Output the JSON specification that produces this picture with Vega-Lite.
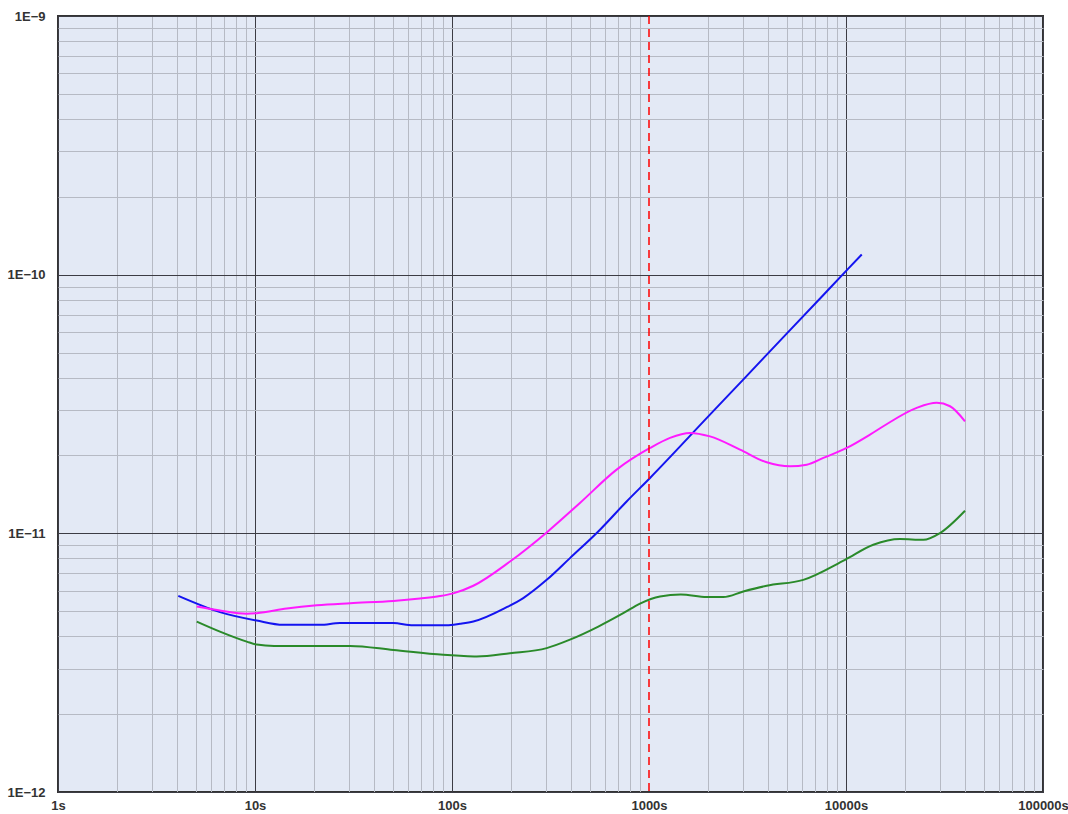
{
  "$schema": "https://vega.github.io/schema/vega-lite/v6.json",
  "autosize": {"type": "none"},
  "padding": {"left": 58, "top": 16, "right": 25, "bottom": 22},
  "width": 985,
  "height": 776,
  "background": "white",
  "config": {
    "view": {"fill": "#e3e9f5", "stroke": "#333333", "strokeWidth": 2},
    "axis": {"labelFont": "Liberation Sans", "labelFontWeight": "bold", "labelFontSize": 13, "labelColor": "#333333", "domain": false, "ticks": false}
  },
  "datasets": {
    "curves": [
      {"series": "blue", "tau": 4.08, "adev": 5.73e-12},
      {"series": "blue", "tau": 6.64, "adev": 4.96e-12},
      {"series": "blue", "tau": 10.2, "adev": 4.60e-12},
      {"series": "blue", "tau": 13.9, "adev": 4.43e-12},
      {"series": "blue", "tau": 21.4, "adev": 4.43e-12},
      {"series": "blue", "tau": 27.0, "adev": 4.50e-12},
      {"series": "blue", "tau": 50.4, "adev": 4.50e-12},
      {"series": "blue", "tau": 63.4, "adev": 4.41e-12},
      {"series": "blue", "tau": 94.0, "adev": 4.41e-12},
      {"series": "blue", "tau": 109.8, "adev": 4.47e-12},
      {"series": "blue", "tau": 128.3, "adev": 4.56e-12},
      {"series": "blue", "tau": 189.5, "adev": 5.18e-12},
      {"series": "blue", "tau": 230, "adev": 5.62e-12},
      {"series": "blue", "tau": 302.5, "adev": 6.61e-12},
      {"series": "blue", "tau": 397, "adev": 8.02e-12},
      {"series": "blue", "tau": 564, "adev": 1.033e-11},
      {"series": "blue", "tau": 770, "adev": 1.328e-11},
      {"series": "blue", "tau": 1012, "adev": 1.637e-11},
      {"series": "blue", "tau": 2000, "adev": 2.831e-11},
      {"series": "blue", "tau": 3000, "adev": 3.922e-11},
      {"series": "blue", "tau": 5000, "adev": 5.915e-11},
      {"series": "blue", "tau": 8000, "adev": 8.63e-11},
      {"series": "blue", "tau": 12020, "adev": 1.197e-10},
      {"series": "magenta", "tau": 5.06, "adev": 5.21e-12},
      {"series": "magenta", "tau": 6.64, "adev": 5.03e-12},
      {"series": "magenta", "tau": 9.08, "adev": 4.89e-12},
      {"series": "magenta", "tau": 10.2, "adev": 4.91e-12},
      {"series": "magenta", "tau": 14.5, "adev": 5.12e-12},
      {"series": "magenta", "tau": 20.6, "adev": 5.27e-12},
      {"series": "magenta", "tau": 30.4, "adev": 5.37e-12},
      {"series": "magenta", "tau": 50.4, "adev": 5.48e-12},
      {"series": "magenta", "tau": 68.8, "adev": 5.60e-12},
      {"series": "magenta", "tau": 86.9, "adev": 5.72e-12},
      {"series": "magenta", "tau": 101.5, "adev": 5.86e-12},
      {"series": "magenta", "tau": 128.3, "adev": 6.27e-12},
      {"series": "magenta", "tau": 197, "adev": 7.78e-12},
      {"series": "magenta", "tau": 302.5, "adev": 1.008e-11},
      {"series": "magenta", "tau": 446, "adev": 1.31e-11},
      {"series": "magenta", "tau": 685, "adev": 1.763e-11},
      {"series": "magenta", "tau": 1012, "adev": 2.138e-11},
      {"series": "magenta", "tau": 1278, "adev": 2.34e-11},
      {"series": "magenta", "tau": 1615, "adev": 2.445e-11},
      {"series": "magenta", "tau": 2040, "adev": 2.37e-11},
      {"series": "magenta", "tau": 2897, "adev": 2.107e-11},
      {"series": "magenta", "tau": 3958, "adev": 1.882e-11},
      {"series": "magenta", "tau": 5197, "adev": 1.816e-11},
      {"series": "magenta", "tau": 6318, "adev": 1.843e-11},
      {"series": "magenta", "tau": 7671, "adev": 1.957e-11},
      {"series": "magenta", "tau": 10080, "adev": 2.138e-11},
      {"series": "magenta", "tau": 13240, "adev": 2.408e-11},
      {"series": "magenta", "tau": 15470, "adev": 2.594e-11},
      {"series": "magenta", "tau": 22850, "adev": 3.055e-11},
      {"series": "magenta", "tau": 28870, "adev": 3.195e-11},
      {"series": "magenta", "tau": 33730, "adev": 3.10e-11},
      {"series": "magenta", "tau": 40180, "adev": 2.71e-11},
      {"series": "green", "tau": 5.06, "adev": 4.56e-12},
      {"series": "green", "tau": 6.64, "adev": 4.17e-12},
      {"series": "green", "tau": 9.08, "adev": 3.815e-12},
      {"series": "green", "tau": 10.2, "adev": 3.715e-12},
      {"series": "green", "tau": 12.5, "adev": 3.672e-12},
      {"series": "green", "tau": 30.4, "adev": 3.672e-12},
      {"series": "green", "tau": 50.4, "adev": 3.54e-12},
      {"series": "green", "tau": 90.3, "adev": 3.39e-12},
      {"series": "green", "tau": 109.8, "adev": 3.36e-12},
      {"series": "green", "tau": 133.5, "adev": 3.34e-12},
      {"series": "green", "tau": 197, "adev": 3.44e-12},
      {"series": "green", "tau": 302.5, "adev": 3.60e-12},
      {"series": "green", "tau": 397, "adev": 3.88e-12},
      {"series": "green", "tau": 553, "adev": 4.36e-12},
      {"series": "green", "tau": 740, "adev": 4.91e-12},
      {"series": "green", "tau": 900, "adev": 5.35e-12},
      {"series": "green", "tau": 1137, "adev": 5.70e-12},
      {"series": "green", "tau": 1450, "adev": 5.80e-12},
      {"series": "green", "tau": 1963, "adev": 5.67e-12},
      {"series": "green", "tau": 2384, "adev": 5.67e-12},
      {"series": "green", "tau": 3010, "adev": 5.96e-12},
      {"series": "green", "tau": 3958, "adev": 6.27e-12},
      {"series": "green", "tau": 6070, "adev": 6.61e-12},
      {"series": "green", "tau": 9886, "adev": 7.90e-12},
      {"series": "green", "tau": 13760, "adev": 9.03e-12},
      {"series": "green", "tau": 18800, "adev": 9.50e-12},
      {"series": "green", "tau": 24690, "adev": 9.44e-12},
      {"series": "green", "tau": 30010, "adev": 1.003e-11},
      {"series": "green", "tau": 40180, "adev": 1.223e-11}
    ],
    "marker": [{"tau": 1000}]
  },
  "layer": [
    {
      "data": {"name": "curves"},
      "mark": {"type": "line", "strokeWidth": 2, "interpolate": "monotone", "clip": true},
      "encoding": {
        "x": {
          "field": "tau", "type": "quantitative",
          "scale": {"type": "log", "domain": [1, 100000], "nice": false},
          "axis": {
            "title": null,
            "values": [1,2,3,4,5,6,7,8,9,10,20,30,40,50,60,70,80,90,100,200,300,400,500,600,700,800,900,1000,2000,3000,4000,5000,6000,7000,8000,9000,10000,20000,30000,40000,50000,60000,70000,80000,90000,100000],
            "labelExpr": "abs(log(datum.value)/LN10 - round(log(datum.value)/LN10)) < 0.001 ? format(datum.value, 'd') + 's' : ''",
            "labelOverlap": false,
            "labelBound": false,
            "labelFlush": false,
            "labelPadding": 7,
            "gridColor": {"condition": {"test": "abs(log(datum.value)/LN10 - round(log(datum.value)/LN10)) < 0.001", "value": "#3c3c44"}, "value": "#b6bac4"},
            "gridOpacity": {"condition": {"test": "datum.value == 1000", "value": 0}, "value": 1},
            "gridWidth": 1
          }
        },
        "y": {
          "field": "adev", "type": "quantitative",
          "scale": {"type": "log", "domain": [1e-12, 1e-9], "nice": false},
          "axis": {
            "title": null,
            "values": [1e-12,2e-12,3e-12,4e-12,5e-12,6e-12,7e-12,8e-12,9e-12,1e-11,2e-11,3e-11,4e-11,5e-11,6e-11,7e-11,8e-11,9e-11,1e-10,2e-10,3e-10,4e-10,5e-10,6e-10,7e-10,8e-10,9e-10,1e-9],
            "labelExpr": "abs(log(datum.value)/LN10 - round(log(datum.value)/LN10)) < 0.001 ? '1E−' + round(-log(datum.value)/LN10) : ''",
            "labelOverlap": false,
            "labelBound": false,
            "labelFlush": false,
            "labelPadding": 13,
            "gridColor": {"condition": {"test": "abs(log(datum.value)/LN10 - round(log(datum.value)/LN10)) < 0.001", "value": "#3c3c44"}, "value": "#b6bac4"},
            "gridWidth": 1
          }
        },
        "color": {
          "field": "series", "type": "nominal",
          "scale": {"domain": ["blue", "magenta", "green"], "range": ["#1414f0", "#ff1aff", "#2a8a2a"]},
          "legend": null
        }
      }
    },
    {
      "data": {"name": "marker"},
      "mark": {"type": "rule", "color": "#ff0000", "strokeWidth": 1.5, "strokeDash": [8, 5]},
      "encoding": {
        "x": {"field": "tau", "type": "quantitative"}
      }
    }
  ]
}
